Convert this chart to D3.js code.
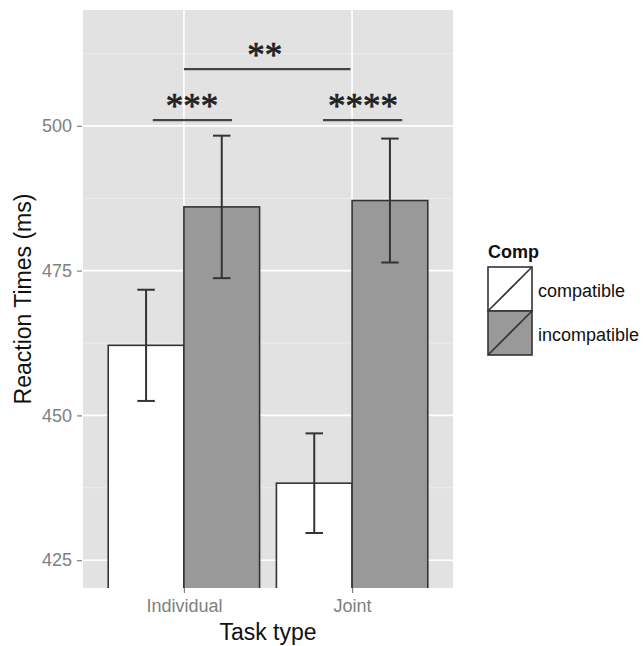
<!DOCTYPE html>
<html>
<head>
<meta charset="utf-8">
<script src="https://cdn.jsdelivr.net/npm/d3@7"></script>
<style>
  body { margin: 0; background: #fff; }
  text { font-family: "Liberation Sans", Arial, sans-serif; }
</style>
</head>
<body>
<svg id="chart"></svg>
<script>
// data
const taskTypes = ['Individual', 'Joint'];
const compLevels = ['compatible', 'incompatible'];
const compatibleRT = [462.1, 438.3];
const incompatibleRT = [486.0, 487.1];
const compatibleErr = [9.6, 8.6];
const incompatibleErr = [12.3, 10.7];
const yTicks = [425, 450, 475, 500];
const yMinorTicks = [437.5, 462.5, 487.5, 512.5];
// significance brackets, x in category units (1 = Individual, 2 = Joint)
const sigLabels = ['***', '**', '****'];
const sigX1 = [0.815, 1.0, 1.827];
const sigX2 = [1.286, 1.99, 2.298];
const sigLabelX = [1.048, 1.48, 2.065];
const sigLineY = [501.0, 509.8, 501.0];

const width = 643, height = 646;
const panel = { left: 83, right: 453, top: 10, bottom: 588 };
const fills = { compatible: '#ffffff', incompatible: '#999999' };
const dark = '#333333';

const svg = d3.select('#chart')
    .attr('width', width)
    .attr('height', height);

const x = d3.scaleLinear()
    .domain([0.4, 2.6])
    .range([panel.left, panel.right]);

const y = d3.scaleLinear()
    .domain([420.2, 520])
    .range([panel.bottom, panel.top]);

const dodge = 0.45; // each bar is half of 0.9

// panel background
svg.append('rect')
    .attr('x', panel.left)
    .attr('y', panel.top)
    .attr('width', panel.right - panel.left)
    .attr('height', panel.bottom - panel.top)
    .attr('fill', '#e2e2e2');

svg.append('clipPath').attr('id', 'clip')
    .append('rect')
    .attr('x', panel.left)
    .attr('y', panel.top)
    .attr('width', panel.right - panel.left)
    .attr('height', panel.bottom - panel.top);

// grid lines
svg.append('g').selectAll('line')
    .data(yMinorTicks)
    .join('line')
    .attr('x1', panel.left).attr('x2', panel.right)
    .attr('y1', d => y(d)).attr('y2', d => y(d))
    .attr('stroke', '#f0f0f0')
    .attr('stroke-width', 0.8);

svg.append('g').selectAll('line')
    .data(yTicks)
    .join('line')
    .attr('x1', panel.left).attr('x2', panel.right)
    .attr('y1', d => y(d)).attr('y2', d => y(d))
    .attr('stroke', '#ffffff')
    .attr('stroke-width', 1.6);

svg.append('g').selectAll('line')
    .data([1, 2])
    .join('line')
    .attr('x1', d => x(d)).attr('x2', d => x(d))
    .attr('y1', panel.top).attr('y2', panel.bottom)
    .attr('stroke', '#ffffff')
    .attr('stroke-width', 1.6);

// bars
const bars = [];
taskTypes.forEach((t, i) => {
    bars.push({ pos: i + 1 - dodge, comp: 'compatible', value: compatibleRT[i], err: compatibleErr[i] });
    bars.push({ pos: i + 1, comp: 'incompatible', value: incompatibleRT[i], err: incompatibleErr[i] });
});

const plot = svg.append('g').attr('clip-path', 'url(#clip)');

plot.selectAll('rect.bar')
    .data(bars)
    .join('rect')
    .attr('class', 'bar')
    .attr('x', d => x(d.pos))
    .attr('width', x(1 + dodge) - x(1))
    .attr('y', d => y(d.value))
    .attr('height', d => panel.bottom + 10 - y(d.value))
    .attr('fill', d => fills[d.comp])
    .attr('stroke', dark)
    .attr('stroke-width', 1.6);

// error bars
const capHalf = 0.052;
const eb = plot.append('g')
    .attr('stroke', dark)
    .attr('stroke-width', 2);
bars.forEach(d => {
    const cx = d.pos + dodge / 2;
    eb.append('line')
        .attr('x1', x(cx)).attr('x2', x(cx))
        .attr('y1', y(d.value + d.err)).attr('y2', y(d.value - d.err));
    [d.value + d.err, d.value - d.err].forEach(v => {
        eb.append('line')
            .attr('x1', x(cx - capHalf)).attr('x2', x(cx + capHalf))
            .attr('y1', y(v)).attr('y2', y(v));
    });
});

// significance brackets
sigLabels.forEach((lab, i) => {
    plot.append('line')
        .attr('x1', x(sigX1[i])).attr('x2', x(sigX2[i]))
        .attr('y1', y(sigLineY[i])).attr('y2', y(sigLineY[i]))
        .attr('stroke', '#444')
        .attr('stroke-width', 2.2);
    plot.append('text')
        .attr('x', x(sigLabelX[i]))
        .attr('y', y(sigLineY[i]) - 2)
        .attr('text-anchor', 'middle')
        .style('font-family', '"Liberation Serif", "Times New Roman", serif')
        .style('font-size', '35px')
        .attr('fill', '#222')
        .attr('stroke', '#222')
        .attr('stroke-width', 0.7)
        .text(lab);
});

// y axis
const yAxis = d3.axisLeft(y)
    .tickValues(yTicks)
    .tickSize(5)
    .tickPadding(5);
const gy = svg.append('g')
    .attr('transform', `translate(${panel.left - 1},0)`)
    .call(yAxis);
gy.select('.domain').remove();
gy.selectAll('line').attr('stroke', '#7f7f7f').attr('stroke-width', 1.2);
gy.selectAll('text')
    .attr('fill', '#808080')
    .style('font-size', '18px');

// x axis
const xAxis = d3.axisBottom(x)
    .tickValues([1, 2])
    .tickFormat(d => taskTypes[d - 1])
    .tickSize(5)
    .tickPadding(6);
const gx = svg.append('g')
    .attr('transform', `translate(0,${panel.bottom})`)
    .call(xAxis);
gx.select('.domain').remove();
gx.selectAll('line').attr('stroke', '#7f7f7f').attr('stroke-width', 1.2);
gx.selectAll('text')
    .attr('fill', '#808080')
    .style('font-size', '18px');

// axis titles
svg.append('text')
    .attr('x', (panel.left + panel.right) / 2)
    .attr('y', 640)
    .attr('text-anchor', 'middle')
    .style('font-size', '23px')
    .attr('fill', '#111')
    .text('Task type');

svg.append('text')
    .attr('transform', `translate(31,${(panel.top + panel.bottom) / 2}) rotate(-90)`)
    .attr('text-anchor', 'middle')
    .style('font-size', '23px')
    .attr('fill', '#111')
    .text('Reaction Times (ms)');

// legend
const legend = svg.append('g').attr('transform', 'translate(488,0)');
legend.append('text')
    .attr('x', 0)
    .attr('y', 258)
    .style('font-size', '18px')
    .style('font-weight', 'bold')
    .attr('fill', '#111')
    .text('Comp');

const keySize = 44;
const keys = legend.selectAll('g.key')
    .data(compLevels)
    .join('g')
    .attr('class', 'key')
    .attr('transform', (d, i) => `translate(0,${267 + i * keySize})`);
keys.append('rect')
    .attr('width', keySize)
    .attr('height', keySize)
    .attr('fill', d => fills[d])
    .attr('stroke', dark)
    .attr('stroke-width', 1.6);
keys.append('line')
    .attr('x1', 0).attr('y1', keySize)
    .attr('x2', keySize).attr('y2', 0)
    .attr('stroke', dark)
    .attr('stroke-width', 1.6);
keys.append('text')
    .attr('x', 50)
    .attr('y', keySize / 2 + 8)
    .style('font-size', '18px')
    .attr('fill', '#111')
    .text(d => d);
</script>
</body>
</html>
